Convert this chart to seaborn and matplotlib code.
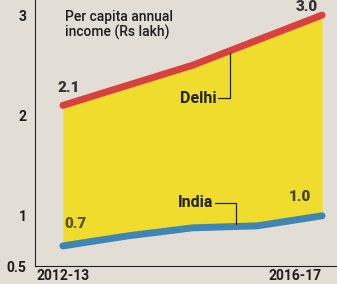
import pandas as pd
import matplotlib
matplotlib.use("Agg")
import matplotlib.pyplot as plt
import seaborn as sns

years = ["2012-13", "2013-14", "2014-15", "2015-16", "2016-17"]
delhi = [2.1, 2.3, 2.5, 2.75, 3.0]
india = [0.7, 0.8, 0.88, 0.9, 1.0]

df = pd.DataFrame({"x": range(len(years)), "Delhi": delhi, "India": india})

sns.set_style("white")
plt.rcParams['font.family'] = ['Liberation Sans Narrow', 'Roboto', 'DejaVu Sans']

bg = "#e2ded6"
fig = plt.figure(figsize=(3.37, 2.84), dpi=100, facecolor=bg)
ax = fig.add_axes([35/337, 18/284, 302/337, 266/284], facecolor=bg)

ax.fill_between(df["x"], df["India"], df["Delhi"], color="#efdc2c", lw=0)
sns.lineplot(data=df, x="x", y="Delhi", color="#d9413f", lw=5, ax=ax, solid_capstyle="round")
sns.lineplot(data=df, x="x", y="India", color="#3f86b4", lw=5, ax=ax, solid_capstyle="round")

ax.set_xlim(-0.43, 4.23)
ax.set_ylim(0.5, 3.15)
ax.set_xlabel("")
ax.set_ylabel("")
for s in ["top", "right"]:
    ax.spines[s].set_visible(False)
ax.spines["left"].set_color("#222222")
ax.spines["bottom"].set_color("#222222")

ax.set_yticks([0.5, 1, 1.5, 2, 2.5, 3])
ax.set_yticklabels(["0.5", "1", "", "2", "", "3"], fontsize=10, fontweight="bold", color="#1e1e1e")
ax.tick_params(axis="y", direction="in", length=7, color="#333333", pad=6)
ax.set_xticks([0, 4])
ax.set_xticklabels([years[0], years[-1]], fontsize=10, fontweight="bold", color="#1e1e1e")
ax.tick_params(axis="x", length=0, pad=2)
ax.get_xticklabels()[-1].set_ha("right")
ax.get_xticklabels()[-1].set_x(4.23)

ax.text(0.04, 3.05, "Per capita annual\nincome (Rs lakh)", fontsize=10, fontweight="medium",
        color="#1e1e1e", va="top", linespacing=1.1)

ax.text(-0.08, 2.2, "2.1", fontsize=11, fontweight="heavy", color="#333333", va="bottom")
ax.text(3.6, 3.15, "3.0", fontsize=11, fontweight="heavy", color="#333333", va="top")
ax.text(0.03, 0.92, "0.7", fontsize=11, fontweight="heavy", color="#5a5020", va="center")
ax.text(3.48, 1.19, "1.0", fontsize=11, fontweight="heavy", color="#444030", va="center")

ax.text(2.38, 2.17, "Delhi", fontsize=11.5, fontweight="bold", color="#222222", ha="right", va="center")
ax.plot([2.4, 2.58, 2.58], [2.17, 2.17, 2.62], color="#222222", lw=0.9)
ax.text(2.32, 1.13, "India", fontsize=11.5, fontweight="bold", color="#222222", ha="right", va="center")
ax.plot([2.35, 2.67, 2.67], [1.13, 1.13, 0.92], color="#222222", lw=0.9)

fig.savefig("out.png", dpi=100, facecolor=bg)
